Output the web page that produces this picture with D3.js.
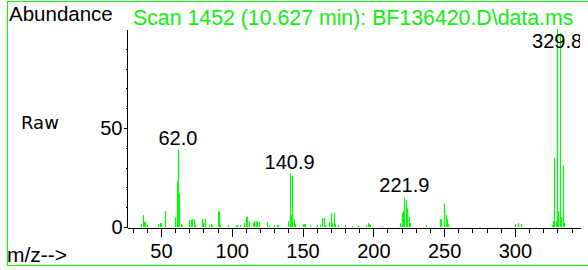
<!DOCTYPE html>
<html>
<head>
<meta charset="utf-8">
<script src="https://cdn.jsdelivr.net/npm/d3@7"></script>
<style>
  html, body { margin: 0; padding: 0; background: #fff; }
  svg { display: block; }
  text { font-family: "Liberation Sans", Arial, sans-serif; }
</style>
</head>
<body>
<svg id="chart" width="588" height="270"></svg>
<script>
// ---- data ----
const title = "Scan 1452 (10.627 min): BF136420.D\\data.ms";
const yTitle = "Abundance";
const modeLabel = "Raw";
const xTitle = "m/z-->";

const mz = [36, 37, 38, 39, 40, 48, 49, 50, 53, 60, 61, 62.0, 63, 64, 65,
  70, 71, 72, 73, 74, 79, 80, 81, 84, 85, 86, 90, 91, 92, 97,
  103, 104, 106, 109, 110, 110.8, 112, 115, 116, 117, 118, 119, 125, 126,
  130, 132, 133, 139.9, 140.9, 141.9, 142.9, 144, 145, 150, 151, 152, 155, 160, 162,
  164, 165, 166, 169, 170, 171, 172, 173, 175, 180, 185, 189, 195, 196, 197, 198, 206,
  219, 220, 221, 221.9, 222.9, 224, 225, 226, 237, 247, 248, 249.8, 251, 252, 253,
  300, 302, 304, 326, 327, 327.8, 328.8, 329.8, 330.8, 331.8, 332.8, 333.8, 335];
const abundance = [1.5, 6, 2.5, 2.5, 1, 1.5, 2, 2, 8, 5, 23, 39, 17, 1.5, 1,
  3.5, 3.5, 4, 4, 1, 4, 2, 4, 1, 1.5, 1, 8, 8, 1, 1,
  1, 1, 1, 2, 5, 5.2, 3, 2, 3, 3, 2.5, 2.5, 2.5, 1,
  1, 1, 1, 3, 27, 6, 26, 4, 1.5, 1.5, 1.5, 1.5, 1, 1, 1,
  4.5, 4.5, 1, 2.5, 7.2, 2, 7.2, 1.5, 1, 1, 0.5, 1, 1, 2, 1.5, 1, 0.5,
  2, 7, 8, 15, 13.5, 9.5, 5, 2, 1, 4, 4, 12, 6, 4, 1.5,
  1.5, 2, 1.5, 1, 3, 35, 3, 100, 8, 98, 5, 31, 2];

const labelMz = [62.0, 140.9, 221.9, 329.8];
const labelAbund = [39, 27, 15, 100];

const xMajorTicks = [50, 100, 150, 200, 250, 300];
const xMinorTicks = d3.range(30, 341, 10);
const yMajorTicks = [0, 50];
const yMinorTicks = d3.range(10, 100, 10);
const xDomain = [26, 346];
const yDomain = [0, 100];

// ---- drawing ----
const svg = d3.select("#chart");
const green = "#00ff00";
const textGreen = "#11ee11";

const x = d3.scaleLinear().domain(xDomain).range([127, 580]);
const y = d3.scaleLinear().domain(yDomain).range([227, 29]);

// frame
svg.append("rect")
  .attr("x", 7.5).attr("y", 1.5)
  .attr("width", 600).attr("height", 264)
  .attr("fill", "none").attr("stroke", green).attr("stroke-width", 1);

// clip for plot
svg.append("defs").append("clipPath").attr("id", "plotclip")
  .append("rect").attr("x", 0).attr("y", 0).attr("width", 580).attr("height", 270);

// bars
const bars = svg.append("g").attr("clip-path", "url(#plotclip)");
bars.selectAll("line.bar")
  .data(mz.map((m, i) => ({ m, v: abundance[i] })))
  .join("line")
  .attr("class", "bar")
  .attr("x1", d => Math.round(x(d.m)) + 0.5)
  .attr("x2", d => Math.round(x(d.m)) + 0.5)
  .attr("y1", y(0))
  .attr("y2", d => y(d.v))
  .attr("stroke", green)
  .attr("stroke-width", 1.2);

// y axis
const yMinorAxis = d3.axisLeft(y).tickValues(yMinorTicks).tickSize(2).tickFormat("").tickSizeOuter(0);
const gyMinor = svg.append("g").attr("transform", "translate(127.5,0)").call(yMinorAxis);
gyMinor.select(".domain").remove();
const yAxis = d3.axisLeft(y).tickValues(yMajorTicks).tickSize(4).tickPadding(1).tickSizeOuter(0);
const gy = svg.append("g").attr("transform", "translate(127.5,0)").call(yAxis);
gy.select(".domain").attr("d", `M0,${y(0)}V30`);
gy.selectAll("text").attr("font-size", 20).attr("fill", "#000").attr("font-family", "Liberation Sans, Arial, sans-serif");

// x axis
const xMinorAxis = d3.axisBottom(x).tickValues(xMinorTicks).tickSize(5).tickFormat("").tickSizeOuter(0);
const gxMinor = svg.append("g").attr("transform", `translate(0,${y(0) + 0.5})`).call(xMinorAxis);
const xAxis = d3.axisBottom(x).tickValues(xMajorTicks).tickSize(9).tickSizeOuter(0);
const gx = svg.append("g").attr("transform", `translate(0,${y(0) + 0.5})`).call(xAxis);
gx.select(".domain").remove();
gx.selectAll("text").attr("font-size", 20).attr("fill", "#000")
  .attr("font-family", "Liberation Sans, Arial, sans-serif")
  .attr("y", 30).attr("dy", 0);
svg.selectAll(".tick line, .domain").attr("stroke", "#000").attr("shape-rendering", "crispEdges");

// peak labels
svg.append("g").attr("clip-path", "url(#plotclip)")
  .selectAll("text")
  .data(labelMz.map((m, i) => ({ m, v: labelAbund[i] })))
  .join("text")
  .attr("x", d => x(d.m))
  .attr("y", d => Math.max(y(d.v) - 5, 48))
  .attr("text-anchor", "middle")
  .attr("font-size", 20)
  .attr("fill", "#000")
  .text(d => d.m.toFixed(1));

// texts
svg.append("text").attr("x", 9).attr("y", 21).attr("font-size", 20.5).attr("fill", "#000").text(yTitle);
svg.append("text").attr("x", 133).attr("y", 25).attr("font-size", 21.3).attr("fill", textGreen).text(title);
svg.append("text").attr("x", 21).attr("y", 129).attr("font-size", 18)
  .style("font-family", "DejaVu Sans").attr("fill", "#000").text(modeLabel);
svg.append("text").attr("x", 7).attr("y", 262).attr("font-size", 21).attr("fill", "#000").text(xTitle);
</script>
</body>
</html>
